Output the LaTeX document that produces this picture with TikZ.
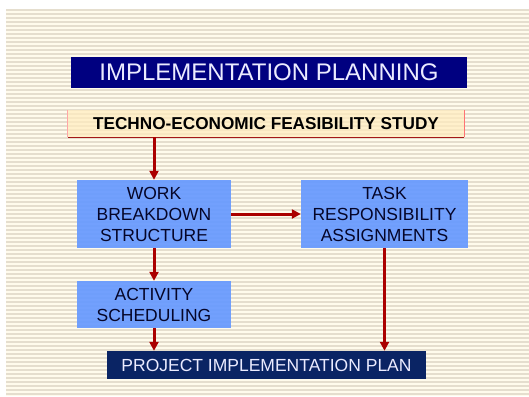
\documentclass[tikz,border=0pt]{standalone}
\usepackage{fontspec}
\setmainfont{Liberation Sans}
\usetikzlibrary{arrows.meta}

\definecolor{paper}{RGB}{255,251,236}
\definecolor{paperline}{RGB}{229,222,206}
\definecolor{navytitle}{RGB}{0,0,128}
\definecolor{navyplan}{RGB}{10,36,100}
\definecolor{boxblue}{RGB}{102,153,255}
\definecolor{cream}{RGB}{255,236,190}
\definecolor{inktext}{RGB}{5,5,40}
\definecolor{arrowred}{RGB}{170,0,0}

\begin{document}
\begin{tikzpicture}[x=1pt,y=-1pt]
\tikzstyle{TITLE} = [rectangle, minimum width=396pt, minimum height=31pt, text centered, fill=navytitle, text=white!92!blue, font=\fontsize{24}{28}\selectfont]
\tikzstyle{STUDY} = [rectangle, minimum width=396pt, minimum height=27pt, text centered, fill=cream, fill opacity=0.7, text opacity=1, text=black, font=\fontsize{17.2}{21}\selectfont\bfseries]
\tikzstyle{BLOCK} = [rectangle, minimum width=154pt, text centered, align=center, fill=boxblue, fill opacity=0.92, text opacity=1, text=inktext, font=\fontsize{17.5}{21}\selectfont]
\tikzstyle{PLAN} = [rectangle, minimum width=319pt, minimum height=28pt, text centered, fill=navyplan, text=white!92!blue, font=\fontsize{17.5}{21}\selectfont]

\tikzstyle{arrow} = [line width=3pt, arrowred, -{Triangle[length=9pt,width=9pt]}]

    % striped paper
    \useasboundingbox (0,0) rectangle (529,396);
    \fill[paper] (6,9) rectangle (529,396);
    \foreach \y in {9,13,...,393}
        \fill[paperline] (6,\y) rectangle (529,\y+2);

    \node (title) at (269, 72.5) [TITLE] {IMPLEMENTATION PLANNING};
    \node (study) at (266, 123.5) [STUDY] {TECHNO-ECONOMIC FEASIBILITY STUDY};
    \draw [red!35, line width=1pt] (study.north west) -- (study.south west);
    \draw [red!60!black!90, line width=1.2pt] (study.south west) -- (study.south east);
    \draw [red!55, line width=1.2pt] (study.south east) -- (study.north east);

    \node (wbs) at (154, 214) [BLOCK, minimum height=68pt] {WORK\\BREAKDOWN\\STRUCTURE};
    \node (task) at (384.5, 214) [BLOCK, minimum width=167pt, minimum height=68pt] {TASK\\RESPONSIBILITY\\ASSIGNMENTS};
    \node (activity) at (154, 304.5) [BLOCK, minimum height=47pt] {ACTIVITY\\SCHEDULING};
    \node (plan) at (266.5, 365) [PLAN] {PROJECT IMPLEMENTATION PLAN};

    \draw [arrow] (study.south -| wbs.north) -- (wbs.north);
    \draw [arrow] (wbs.east) -- (task.west);
    \draw [arrow] (wbs.south) -- (activity.north);
    \draw [arrow] (activity.south) -- (plan.north -| activity.south);
    \draw [arrow] (task.south) -- (plan.north -| task.south);
\end{tikzpicture}
\end{document}
